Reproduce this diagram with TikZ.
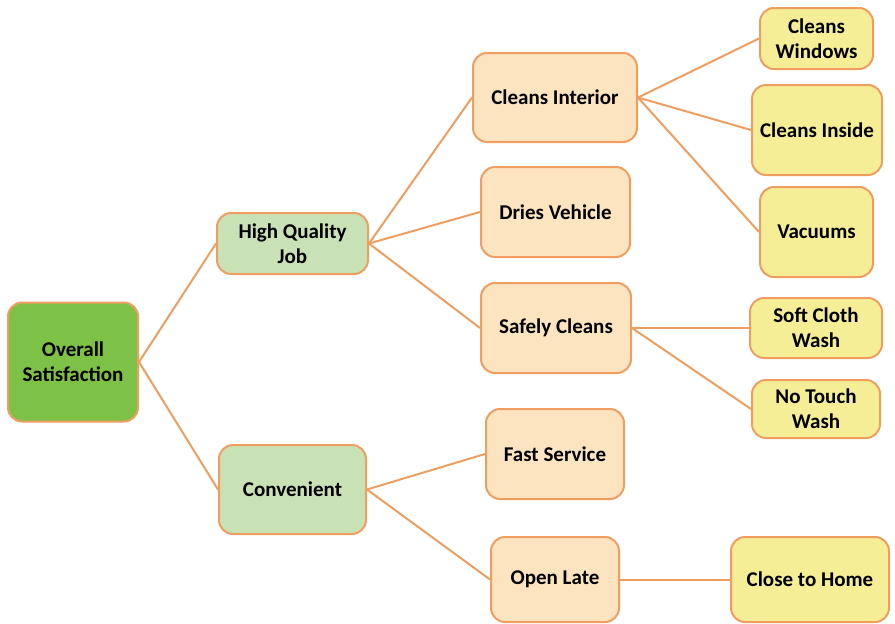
\documentclass[tikz,border=0pt]{standalone}
\usepackage{fontspec}
\setmainfont{Carlito}
\definecolor{edgeor}{RGB}{240,158,96}
\definecolor{borderor}{RGB}{240,158,96}
\definecolor{darkgreen}{RGB}{125,193,70}
\definecolor{lightgreen}{RGB}{200,226,182}
\definecolor{peach}{RGB}{252,228,192}
\definecolor{lyellow}{RGB}{245,238,150}
\begin{document}
\begin{tikzpicture}[x=1pt,y=-1pt,
  box/.style={draw=borderor, line width=2pt, rounded corners=14pt, align=center,
    font=\fontsize{21}{25}\selectfont\bfseries, text=black, inner sep=0pt},
  lvl0/.style={box, fill=darkgreen},
  lvl1/.style={box, fill=lightgreen},
  lvl2/.style={box, fill=peach},
  lvl3/.style={box, fill=lyellow},
  conn/.style={draw=edgeor, line width=2pt}]
\useasboundingbox (0,0) rectangle (895,624);
\node[lvl0, minimum width=130pt, minimum height=119pt] (overall) at (73,362) {Overall\\Satisfaction};
\node[lvl1, minimum width=151pt, minimum height=61pt] (hqj) at (292.5,243.5) {High Quality\\Job};
\node[lvl1, minimum width=147pt, minimum height=89pt] (conv) at (292.5,489.5) {Convenient};
\node[lvl2, minimum width=164pt, minimum height=89pt] (ci) at (555,97.5) {Cleans Interior};
\node[lvl2, minimum width=149pt, minimum height=90pt] (dries) at (555.5,212) {Dries Vehicle};
\node[lvl2, minimum width=150pt, minimum height=90pt] (safe) at (556,328) {Safely Cleans};
\node[lvl2, minimum width=138pt, minimum height=90pt] (fast) at (555,454) {Fast Service};
\node[lvl2, minimum width=128pt, minimum height=85pt] (late) at (555,579.5) {Open Late};
\node[lvl3, minimum width=113pt, minimum height=61pt] (win) at (816.5,38.5) {Cleans\\Windows};
\node[lvl3, minimum width=130pt, minimum height=90pt] (inside) at (817,130) {Cleans Inside};
\node[lvl3, minimum width=113pt, minimum height=90pt] (vac) at (816.5,232) {Vacuums};
\node[lvl3, minimum width=132pt, minimum height=60pt] (soft) at (816,328) {Soft Cloth\\Wash};
\node[lvl3, minimum width=128pt, minimum height=58pt] (touch) at (816,409) {No Touch\\Wash};
\node[lvl3, minimum width=158pt, minimum height=85pt] (home) at (810,579.5) {Close to Home};
\draw[conn] (overall.east) -- (hqj.west);
\draw[conn] (overall.east) -- (conv.west);
\draw[conn] (hqj.east) -- (ci.west);
\draw[conn] (hqj.east) -- (dries.west);
\draw[conn] (hqj.east) -- (safe.west);
\draw[conn] (conv.east) -- (fast.west);
\draw[conn] (conv.east) -- (late.west);
\draw[conn] (ci.east) -- (win.west);
\draw[conn] (ci.east) -- (inside.west);
\draw[conn] (ci.east) -- (vac.west);
\draw[conn] (safe.east) -- (soft.west);
\draw[conn] (safe.east) -- (touch.west);
\draw[conn] (late.east) -- (home.west);
\end{tikzpicture}
\end{document}
